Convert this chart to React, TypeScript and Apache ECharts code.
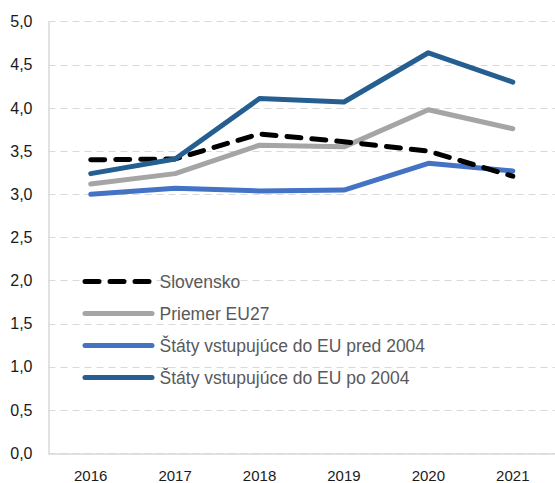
import React, { useEffect, useRef } from "react";
import * as echarts from "echarts";

const years = ["2016", "2017", "2018", "2019", "2020", "2021"];
const slovensko = [3.4, 3.41, 3.7, 3.61, 3.5, 3.21];
const priemerEU27 = [3.12, 3.24, 3.57, 3.55, 3.98, 3.76];
const predEU2004 = [3.0, 3.07, 3.04, 3.05, 3.36, 3.27];
const poEU2004 = [3.24, 3.41, 4.11, 4.07, 4.64, 4.3];
const seriesNames = [
  "Slovensko",
  "Priemer EU27",
  "Štáty vstupujúce do EU pred 2004",
  "Štáty vstupujúce do EU po 2004",
];

export default function App() {
  const ref = useRef<HTMLDivElement>(null);
  useEffect(() => {
    if (!ref.current) return;
    const chart = echarts.init(ref.current, null, { renderer: "svg" });
    const font = "'Liberation Sans', Arial, sans-serif";
    const mk = (name: string, data: number[], color: string, dashed = false, z = 2) => ({
      name,
      type: "line",
      data,
      symbol: "none",
      z,
      lineStyle: {
        color,
        width: 5,
        type: dashed ? [14, 11] : "solid",
        cap: "round",
        join: "round",
      },
      itemStyle: { color },
    });
    chart.setOption({
      animation: false,
      textStyle: { fontFamily: font },
      grid: { left: 48.5, right: -24, top: 21.7, bottom: 29.7 },
      legend: {
        orient: "vertical",
        left: 82.5,
        top: 272.5,
        padding: 0,
        itemWidth: 67,
        itemHeight: 14,
        itemGap: 14,
        itemStyle: { opacity: 0 },
        lineStyle: { width: 5, cap: "round" },
        textStyle: {
          fontSize: 17.5,
          lineHeight: 18,
          color: "#595959",
          fontFamily: font,
          padding: [0, 0, 0, 2.5],
        },
        data: seriesNames,
      },
      xAxis: {
        type: "category",
        data: years,
        boundaryGap: true,
        axisLine: { lineStyle: { color: "#d9d9d9", width: 1.5 } },
        axisTick: { show: false },
        axisLabel: { fontSize: 15, color: "#1a1a1a", margin: 14.5, fontFamily: font },
        splitLine: { show: false },
      },
      yAxis: {
        type: "value",
        min: 0,
        max: 5,
        interval: 0.5,
        axisLine: { show: true, lineStyle: { color: "#d9d9d9", width: 1.5 } },
        axisTick: { show: false },
        axisLabel: {
          fontSize: 16,
          color: "#1a1a1a",
          margin: 16,
          fontFamily: font,
          formatter: (v: number) => v.toFixed(1).replace(".", ","),
        },
        splitLine: { lineStyle: { color: "#d9d9d9", type: [7, 5], width: 1.2 } },
      },
      series: [
        mk(seriesNames[0], slovensko, "#000000", true, 3),
        mk(seriesNames[1], priemerEU27, "#a5a5a5", false, 2),
        mk(seriesNames[2], predEU2004, "#4472c4", false, 2),
        mk(seriesNames[3], poEU2004, "#255e91", false, 4),
      ],
    });
    return () => chart.dispose();
  }, []);
  return (
    <div
      ref={ref}
      style={{ width: 555, height: 483, position: "absolute", left: 0, top: 0 }}
    />
  );
}
